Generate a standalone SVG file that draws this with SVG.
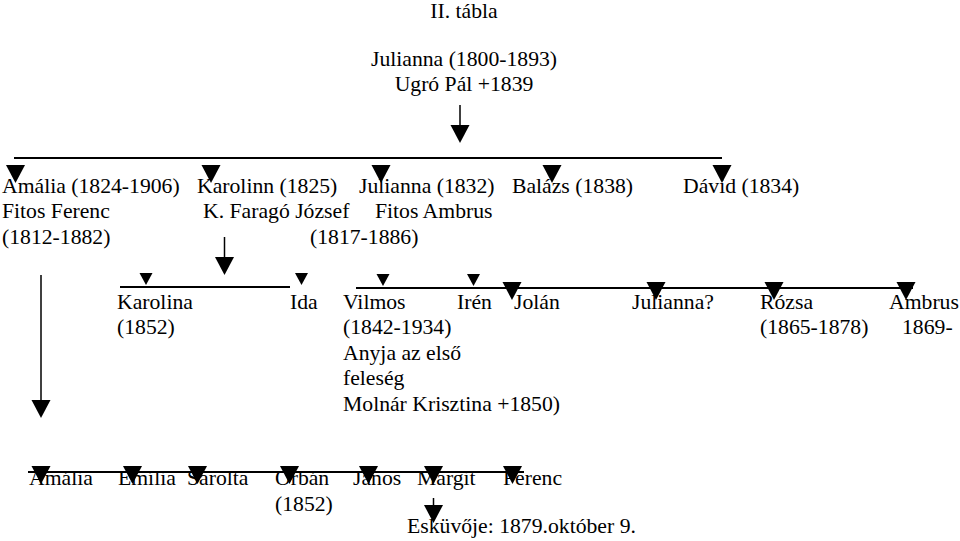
<svg xmlns="http://www.w3.org/2000/svg" xmlns:xlink="http://www.w3.org/1999/xlink" width="960" height="541" viewBox="0 0 960 541">
<style>
text{font-family:"Liberation Serif","Times New Roman",serif;font-size:21.7px;fill:#000}
.ln{stroke:#000;stroke-width:2;fill:none}
.st{stroke:#000;stroke-width:1.5;fill:none}
</style>
<defs>
<path id="tb" d="M-9.5,0 L9.5,0 L0,18 Z" fill="#000"/>
<path id="ts" d="M-6.5,0 L6.5,0 L0,12 Z" fill="#000"/>
</defs>
<rect width="960" height="541" fill="#fff"/>
<g id="title"><text x="464" y="18" text-anchor="middle">II. tábla</text></g>
<g id="root">
<text x="464" y="66" text-anchor="middle">Julianna (1800-1893)</text>
<text x="464" y="91" text-anchor="middle">Ugró Pál +1839</text>
</g>
<g id="connectors">
<line class="st" x1="460" y1="105" x2="460" y2="126"/>
<use xlink:href="#tb" x="460" y="125"/>
<line class="ln" x1="14" y1="158" x2="722" y2="158"/>
<use xlink:href="#tb" x="15.5" y="165"/>
<use xlink:href="#tb" x="211" y="165"/>
<use xlink:href="#tb" x="381" y="165"/>
<use xlink:href="#tb" x="552" y="165"/>
<use xlink:href="#tb" x="722" y="165"/>
<line class="st" x1="224.5" y1="237" x2="224.5" y2="258"/>
<use xlink:href="#tb" x="224.5" y="257"/>
<line class="ln" x1="120" y1="287" x2="290" y2="287"/>
<use xlink:href="#ts" x="146" y="273"/>
<use xlink:href="#ts" x="301.5" y="273"/>
<line class="ln" x1="356" y1="288" x2="913" y2="288"/>
<use xlink:href="#ts" x="383" y="274"/>
<use xlink:href="#ts" x="473.5" y="274"/>
<use xlink:href="#tb" x="512" y="282"/>
<use xlink:href="#tb" x="656" y="282"/>
<use xlink:href="#tb" x="774" y="282"/>
<use xlink:href="#tb" x="906" y="282"/>
<line class="st" x1="41" y1="275" x2="41" y2="401"/>
<use xlink:href="#tb" x="41" y="400"/>
<line class="ln" x1="28" y1="472" x2="524" y2="472"/>
<use xlink:href="#tb" x="41" y="466"/>
<use xlink:href="#tb" x="132.5" y="466"/>
<use xlink:href="#tb" x="197.5" y="466"/>
<use xlink:href="#tb" x="289.5" y="466"/>
<use xlink:href="#tb" x="368.5" y="466"/>
<use xlink:href="#tb" x="433.5" y="466"/>
<use xlink:href="#tb" x="512.5" y="466"/>
<line class="st" x1="433.5" y1="498" x2="433.5" y2="506"/>
<use xlink:href="#tb" x="433.5" y="505"/>
</g>
<g id="amalia">
<text x="2" y="192.5">Amália (1824-1906)</text>
<text x="2" y="218">Fitos Ferenc</text>
<text x="2" y="243.5">(1812-1882)</text>
</g>
<g id="karolinn">
<text x="197" y="192.5">Karolinn (1825)</text>
<text x="203" y="218">K. Faragó József</text>
</g>
<g id="julianna1832">
<text x="359" y="192.5">Julianna (1832)</text>
<text x="375" y="218">Fitos Ambrus</text>
<text x="310" y="243.5">(1817-1886)</text>
</g>
<g id="balazs"><text x="512" y="192.5">Balázs (1838)</text></g>
<g id="david"><text x="683" y="192.5">Dávid (1834)</text></g>
<g id="karolina">
<text x="117" y="308.5">Karolina</text>
<text x="117" y="334">(1852)</text>
</g>
<g id="ida"><text x="290" y="308.5">Ida</text></g>
<g id="vilmos">
<text x="343" y="308.5">Vilmos</text>
<text x="343" y="334">(1842-1934)</text>
<text x="343" y="359.5">Anyja az első</text>
<text x="343" y="385">feleség</text>
<text x="343" y="410.5">Molnár Krisztina +1850)</text>
</g>
<g id="iren"><text x="457" y="308.5">Irén</text></g>
<g id="jolan"><text x="514" y="308.5">Jolán</text></g>
<g id="julianna-q"><text x="632" y="308.5">Julianna?</text></g>
<g id="rozsa">
<text x="760" y="308.5">Rózsa</text>
<text x="760" y="334">(1865-1878)</text>
</g>
<g id="ambrus">
<text x="889" y="308.5">Ambrus</text>
<text x="902" y="334">1869-</text>
</g>
<g id="amalia2"><text x="29" y="485">Amália</text></g>
<g id="emilia"><text x="118" y="485">Emília</text></g>
<g id="sarolta"><text x="187" y="485">Sarolta</text></g>
<g id="orban">
<text x="275" y="485">Orbán</text>
<text x="275" y="510.5">(1852)</text>
</g>
<g id="janos"><text x="353" y="485">János</text></g>
<g id="margit"><text x="417" y="485">Margit</text></g>
<g id="ferenc"><text x="503" y="485">Ferenc</text></g>
<g id="eskuvo"><text x="407" y="533">Esküvője: 1879.október 9.</text></g>
</svg>
